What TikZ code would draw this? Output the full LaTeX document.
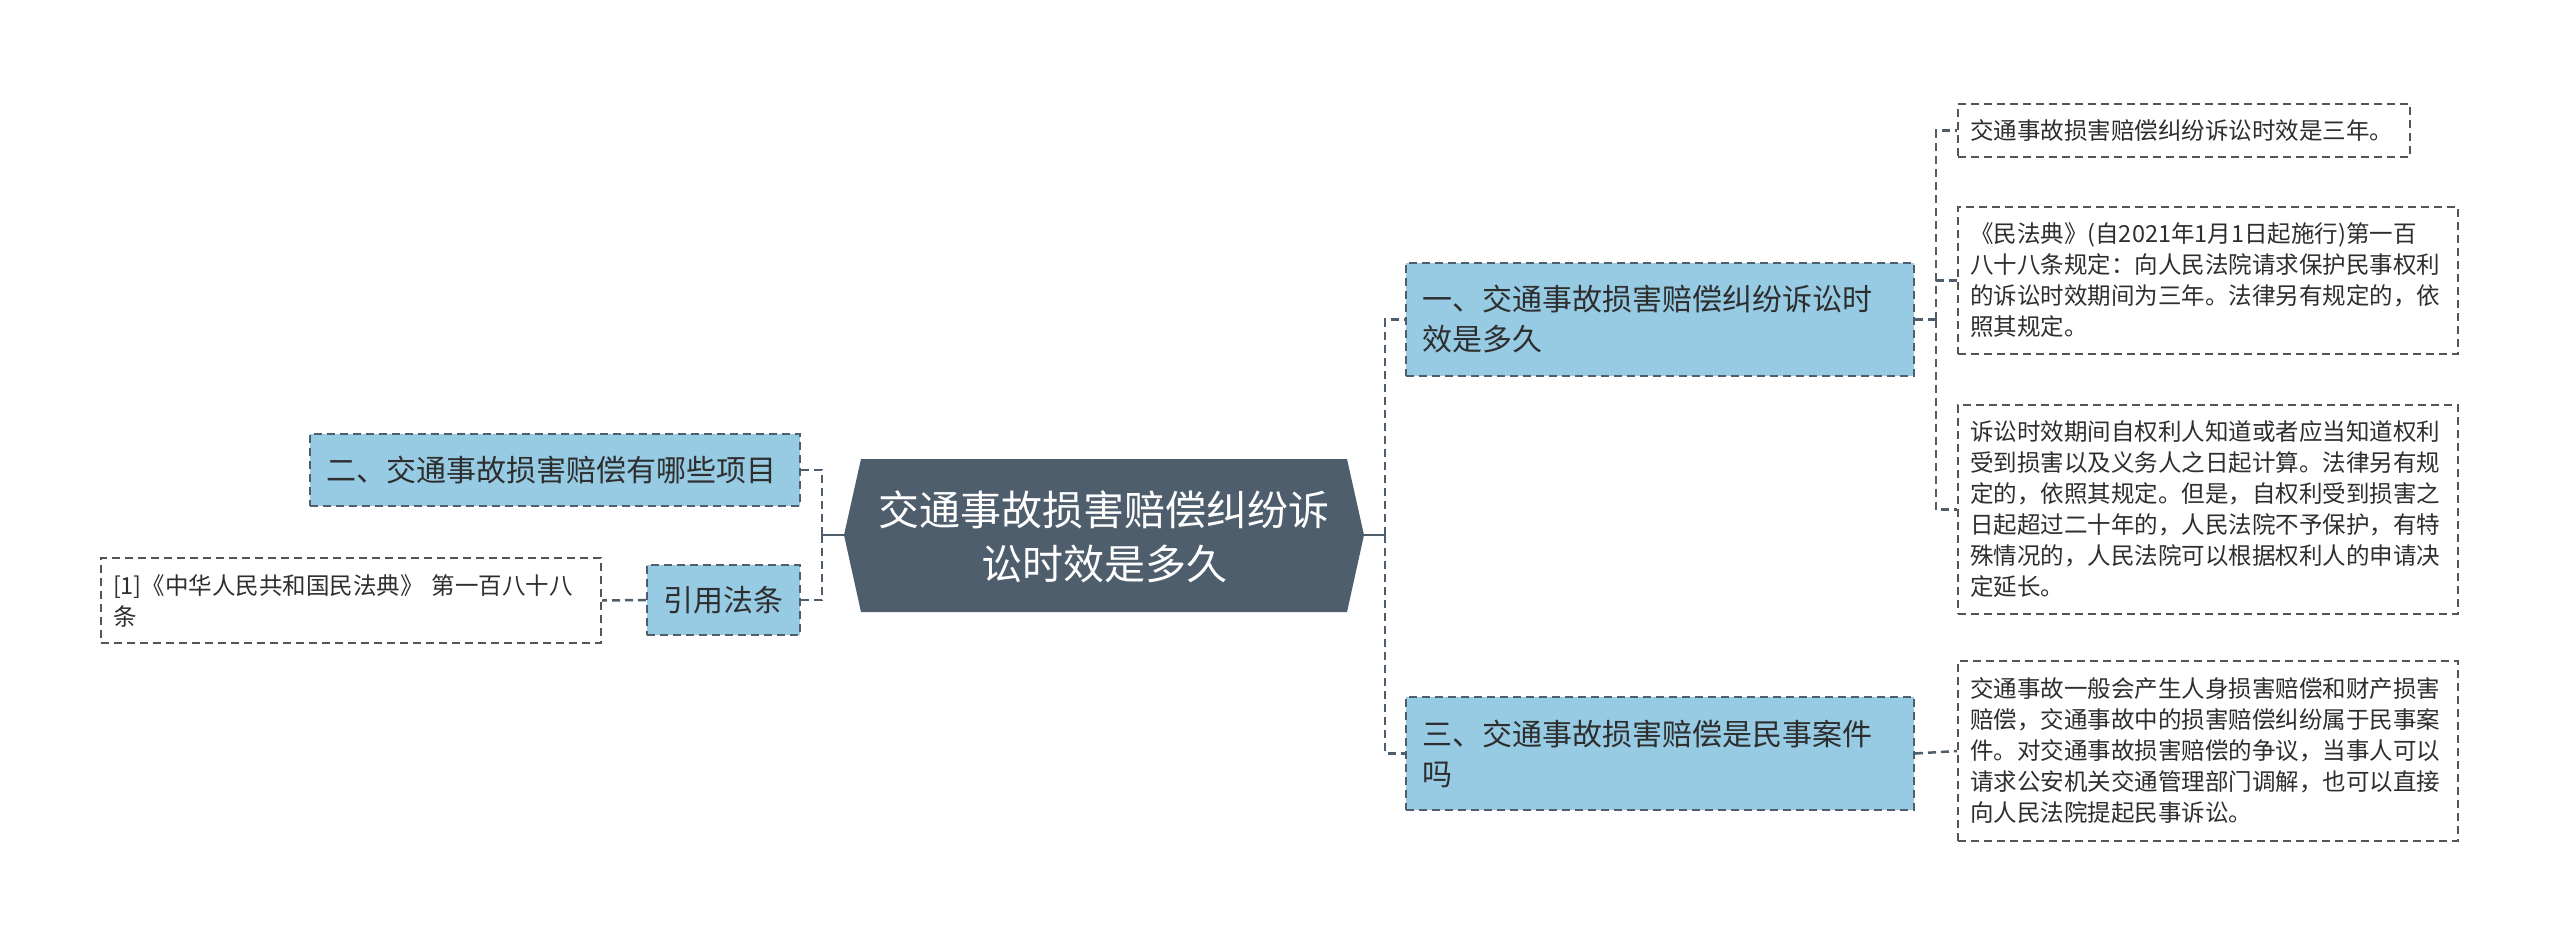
\documentclass[tikz,border=0pt]{standalone}
\usepackage{fontspec}
\setmainfont{Noto Sans CJK SC}
\usetikzlibrary{calc}
\definecolor{slate}{HTML}{4F5E6D}
\definecolor{lblue}{HTML}{96CBE3}
\definecolor{txt}{HTML}{2E2E2E}
\definecolor{leafline}{HTML}{555555}
\tikzset{
  dsh/.style={dash pattern=on 8pt off 5pt},
  conn/.style={draw=slate, line width=2.5pt, dsh},
  stub/.style={draw=slate, line width=2.5pt},
  lone/.style={draw=slate, line width=2pt, dsh, fill=lblue, text=txt,
    font=\fontsize{30}{40}\selectfont, align=left, inner sep=0pt},
  leaf/.style={draw=leafline, line width=2pt, dsh, fill=white, text=txt,
    font=\fontsize{23.5}{31}\selectfont, align=left, inner sep=0pt},
}
\begin{document}
\begin{tikzpicture}[x=1pt,y=-1pt]
\useasboundingbox[fill=white] (0,0) rectangle (2560,943);

% central hexagon
\coordinate (cl) at (844,535);
\coordinate (cr) at (1364,535);
\fill[slate] (cl) -- (861,459) -- (1347,459) -- (cr) -- (1347,612) -- (861,612) -- cycle;
\node[text=white, font=\fontsize{41}{54}\selectfont, align=center] (c) at (1104,537)
  {交通事故损害赔偿纠纷诉\\讼时效是多久};

% level one nodes
\node[lone, minimum width=508pt, minimum height=113pt, text width=476pt] (n1) at (1660,319.5)
  {一、交通事故损害赔偿纠纷诉讼时\\效是多久};
\node[lone, minimum width=508pt, minimum height=113pt, text width=476pt] (n3) at (1660,753.5)
  {三、交通事故损害赔偿是民事案件\\吗};
\node[lone, minimum width=490pt, minimum height=72pt, text width=458pt] (n2) at (555,470)
  {二、交通事故损害赔偿有哪些项目};
\node[lone, minimum width=153pt, minimum height=70pt, text width=121pt] (nc) at (723.5,600)
  {引用法条};

% leaves
\node[leaf, minimum width=500pt, minimum height=85pt, text width=476pt] (l0) at (351,600.5)
  {[1]《中华人民共和国民法典》 第一百八十八\\条};
\node[leaf, minimum width=452pt, minimum height=53pt, text width=428pt] (r1) at (2184,130.5)
  {交通事故损害赔偿纠纷诉讼时效是三年。};
\node[leaf, minimum width=500pt, minimum height=147pt, text width=476pt] (r2) at (2208,280.5)
  {《民法典》(自2021年1月1日起施行)第一百\\八十八条规定：向人民法院请求保护民事权利\\的诉讼时效期间为三年。法律另有规定的，依\\照其规定。};
\node[leaf, minimum width=500pt, minimum height=209pt, text width=476pt] (r3) at (2208,509.5)
  {诉讼时效期间自权利人知道或者应当知道权利\\受到损害以及义务人之日起计算。法律另有规\\定的，依照其规定。但是，自权利受到损害之\\日起超过二十年的，人民法院不予保护，有特\\殊情况的，人民法院可以根据权利人的申请决\\定延长。};
\node[leaf, minimum width=500pt, minimum height=180pt, text width=476pt] (r4) at (2208,751)
  {交通事故一般会产生人身损害赔偿和财产损害\\赔偿，交通事故中的损害赔偿纠纷属于民事案\\件。对交通事故损害赔偿的争议，当事人可以\\请求公安机关交通管理部门调解，也可以直接\\向人民法院提起民事诉讼。};

% connectors right of center
\coordinate (br) at (1385,535);
\draw[stub] (cr) -- (br);
\draw[conn] (br) |- (n1.west);
\draw[conn] (br) |- (n3.west);

% connectors left of center
\coordinate (bl) at (822,535);
\draw[stub] (cl) -- (bl);
\draw[conn] (bl) |- (n2.east);
\draw[conn] (bl) |- (nc.east);
\draw[conn] (nc.west) -- (l0.east);

% leaf bus of node one
\coordinate (b1) at ($(n1.east)+(21,0)$);
\draw[conn] (n1.east) -- (b1);
\draw[conn] (b1) |- (r1.west);
\draw[conn] (b1) |- (r2.west);
\draw[conn] (b1) |- (r3.west);

% node three to its leaf
\draw[conn] (n3.east) -- (r4.west);
\end{tikzpicture}
\end{document}
